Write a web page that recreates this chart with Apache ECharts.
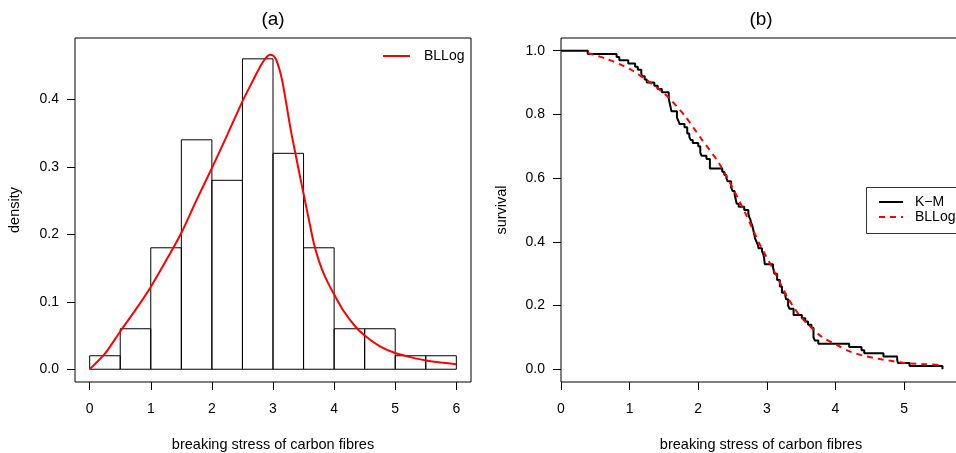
<!DOCTYPE html>
<html>
<head>
<meta charset="utf-8">
<script src="https://cdn.jsdelivr.net/npm/echarts@6/dist/echarts.min.js"></script>
<style>
  html, body { margin: 0; background: #fff; }
  #chart { width: 956px; height: 453px; }
</style>
</head>
<body>
<div id="chart"></div>
<script>
// (a) histogram of breaking stress, density scale
const binStart = [0, 0.5, 1, 1.5, 2, 2.5, 3, 3.5, 4, 4.5, 5, 5.5];
const binEnd = [0.5, 1, 1.5, 2, 2.5, 3, 3.5, 4, 4.5, 5, 5.5, 6];
const binDensity = [0.02, 0.06, 0.18, 0.34, 0.28, 0.46, 0.32, 0.18, 0.06, 0.06, 0.02, 0.02];

// fitted BLLog density
const pdfX = [0, 0.25, 0.5, 0.75, 1, 1.25, 1.5, 1.75, 2, 2.25, 2.5, 2.65, 2.8, 2.88, 2.95, 3.0, 3.05, 3.1, 3.15, 3.2, 3.25, 3.3, 3.375, 3.45, 3.5, 3.6, 3.67, 3.75, 3.82, 3.9, 4, 4.15, 4.35, 4.5, 4.75, 5, 5.25, 5.5, 5.75, 6];
const pdfY = [0, 0.023, 0.056, 0.088, 0.122, 0.161, 0.202, 0.251, 0.298, 0.347, 0.397, 0.424, 0.450, 0.461, 0.466, 0.465, 0.459, 0.446, 0.428, 0.403, 0.376, 0.350, 0.316, 0.282, 0.260, 0.216, 0.186, 0.161, 0.144, 0.128, 0.111, 0.087, 0.063, 0.050, 0.034, 0.024, 0.018, 0.013, 0.010, 0.0074];

// (b) Kaplan-Meier steps
const kmTime = [0, 0.39, 0.81, 0.85, 0.98, 1.08, 1.12, 1.17, 1.18, 1.22, 1.25, 1.36, 1.41, 1.47, 1.57, 1.59, 1.61, 1.69, 1.71, 1.73, 1.80, 1.84, 1.87, 1.89, 1.92, 2.00, 2.03, 2.05, 2.12, 2.17, 2.35, 2.38, 2.41, 2.43, 2.48, 2.50, 2.53, 2.55, 2.56, 2.59, 2.67, 2.73, 2.74, 2.76, 2.77, 2.79, 2.81, 2.82, 2.83, 2.85, 2.87, 2.88, 2.93, 2.95, 2.96, 2.97, 3.09, 3.11, 3.15, 3.19, 3.22, 3.27, 3.28, 3.31, 3.33, 3.39, 3.51, 3.56, 3.60, 3.65, 3.68, 3.70, 3.75, 4.20, 4.38, 4.42, 4.70, 4.90, 4.91, 5.08, 5.56];
const kmSurv = [1.00, 0.99, 0.98, 0.97, 0.96, 0.95, 0.94, 0.93, 0.92, 0.91, 0.90, 0.89, 0.88, 0.87, 0.85, 0.83, 0.81, 0.79, 0.78, 0.77, 0.76, 0.74, 0.73, 0.72, 0.71, 0.70, 0.68, 0.67, 0.66, 0.63, 0.62, 0.61, 0.60, 0.59, 0.57, 0.56, 0.55, 0.53, 0.52, 0.51, 0.50, 0.49, 0.48, 0.47, 0.46, 0.45, 0.43, 0.42, 0.41, 0.40, 0.39, 0.38, 0.37, 0.36, 0.35, 0.33, 0.32, 0.30, 0.28, 0.26, 0.24, 0.23, 0.22, 0.20, 0.19, 0.17, 0.16, 0.15, 0.14, 0.13, 0.10, 0.09, 0.08, 0.07, 0.06, 0.05, 0.04, 0.03, 0.02, 0.01, 0.00];

// fitted BLLog survival
const survX = [0.39, 0.67, 1.0, 1.3, 1.55, 1.8, 2.05, 2.3, 2.5, 2.7, 2.9, 3.1, 3.3, 3.5, 3.8, 4.05, 4.2, 4.4, 4.65, 4.85, 5.05, 5.3, 5.56];
const survY = [0.993, 0.974, 0.943, 0.900, 0.857, 0.797, 0.722, 0.648, 0.570, 0.484, 0.391, 0.311, 0.226, 0.163, 0.102, 0.073, 0.057, 0.043, 0.032, 0.025, 0.019, 0.016, 0.013];

const xTicksA = [0, 1, 2, 3, 4, 5, 6];
const yTicksA = [0, 0.1, 0.2, 0.3, 0.4];
const xTicksB = [0, 1, 2, 3, 4, 5];
const yTicksB = [0, 0.2, 0.4, 0.6, 0.8, 1.0];

const FONT = 'Liberation Sans, Arial, sans-serif';
const txt = { color: '#000', fontSize: 14, fontFamily: FONT };
const nameTxt = { color: '#000', fontSize: 14.5, fontFamily: FONT };

const chart = echarts.init(document.getElementById('chart'));

const xAxisBase = (ticks, min, max, gridIndex) => ({
    type: 'value', gridIndex, min, max,
    axisLine: { show: false, onZero: false },
    axisTick: { show: true, length: 8, customValues: ticks, lineStyle: { color: '#000' } },
    axisLabel: { customValues: ticks, margin: 20, ...txt },
    splitLine: { show: false },
    name: 'breaking stress of carbon fibres',
    nameLocation: 'middle', nameGap: 55,
    nameTextStyle: nameTxt
});

const yAxisBase = (ticks, min, max, gridIndex, name, gap) => ({
    type: 'value', gridIndex, min, max,
    axisLine: { show: false, onZero: false },
    axisTick: { show: true, length: 8, customValues: ticks, lineStyle: { color: '#000' } },
    axisLabel: { customValues: ticks, margin: 16, formatter: v => v.toFixed(1), ...txt },
    splitLine: { show: false },
    name, nameLocation: 'middle', nameGap: gap, nameRotate: 90,
    nameTextStyle: nameTxt
});

const option = {
    animation: false,
    backgroundColor: '#fff',
    title: [
        { text: '(a)', left: 273, top: 10, textAlign: 'center', padding: 0,
          textStyle: { fontSize: 19, fontWeight: 'normal', color: '#000', fontFamily: FONT } },
        { text: '(b)', left: 761, top: 10, textAlign: 'center', padding: 0,
          textStyle: { fontSize: 19, fontWeight: 'normal', color: '#000', fontFamily: FONT } }
    ],
    // frame of the (b) legend, open on the right: it runs off the page like the plot box
    graphic: [{
        type: 'polyline', z: 5, silent: true,
        shape: { points: [[990, 187.5], [866.5, 187.5], [866.5, 233.5], [990, 233.5]] },
        style: { fill: 'none', stroke: '#333', lineWidth: 1 }
    }],
    legend: [
        {
            data: ['BLLog'], left: 382, top: 49, padding: 0,
            itemWidth: 27, itemHeight: 14,
            itemStyle: { opacity: 0 },
            textStyle: { ...txt, padding: [0, 0, 0, 9] }
        },
        {
            data: [{ name: 'K\u2212M' }, { name: 'BLLog', lineStyle: { type: [6, 5] } }],
            orient: 'vertical', left: 866, top: 187,
            padding: [8, 10, 8, 12], itemGap: 1,
            itemWidth: 24, itemHeight: 14,
            itemStyle: { opacity: 0 },
            textStyle: { ...txt, padding: [0, 0, 0, 7] }
        }
    ],
    grid: [
        { left: 75, top: 38, width: 396, height: 344, outerBoundsMode: 'none',
          show: true, borderColor: '#000', borderWidth: 1 },
        { left: 561, top: 38, right: -5, height: 344, outerBoundsMode: 'none',
          show: true, borderColor: '#000', borderWidth: 1 }
    ],
    xAxis: [
        xAxisBase(xTicksA, -0.24, 6.24, 0),
        xAxisBase(xTicksB, 0, 5.83, 1)
    ],
    yAxis: [
        yAxisBase(yTicksA, -0.0189, 0.4909, 0, 'density', 53),
        yAxisBase(yTicksB, -0.04, 1.04, 1, 'survival', 52)
    ],
    series: [
        {
            name: 'hist', type: 'custom', xAxisIndex: 0, yAxisIndex: 0,
            data: binStart.map((s, i) => [s, binEnd[i], binDensity[i]]),
            renderItem: (params, api) => {
                const p0 = api.coord([api.value(0), api.value(2)]);
                const p1 = api.coord([api.value(1), 0]);
                return {
                    type: 'rect',
                    shape: { x: p0[0], y: p0[1], width: p1[0] - p0[0], height: p1[1] - p0[1] },
                    style: { fill: 'none', stroke: '#000', lineWidth: 1 }
                };
            }
        },
        {
            name: 'BLLog', type: 'line', xAxisIndex: 0, yAxisIndex: 0,
            data: pdfX.map((x, i) => [x, pdfY[i]]),
            symbol: 'none', smooth: 0.25,
            lineStyle: { color: '#ff0000', width: 2 }, itemStyle: { color: '#ff0000' }
        },
        {
            name: 'K\u2212M', type: 'line', xAxisIndex: 1, yAxisIndex: 1,
            data: kmTime.map((t, i) => [t, kmSurv[i]]),
            step: 'end', symbol: 'none',
            lineStyle: { color: '#000', width: 2 }, itemStyle: { color: '#000' }
        },
        {
            name: 'BLLog', type: 'line', xAxisIndex: 1, yAxisIndex: 1,
            data: survX.map((x, i) => [x, survY[i]]),
            symbol: 'none', smooth: 0.25,
            lineStyle: { color: '#ff0000', width: 2, type: [6, 5] }, itemStyle: { color: '#ff0000' }
        }
    ]
};

chart.setOption(option);
</script>
</body>
</html>
